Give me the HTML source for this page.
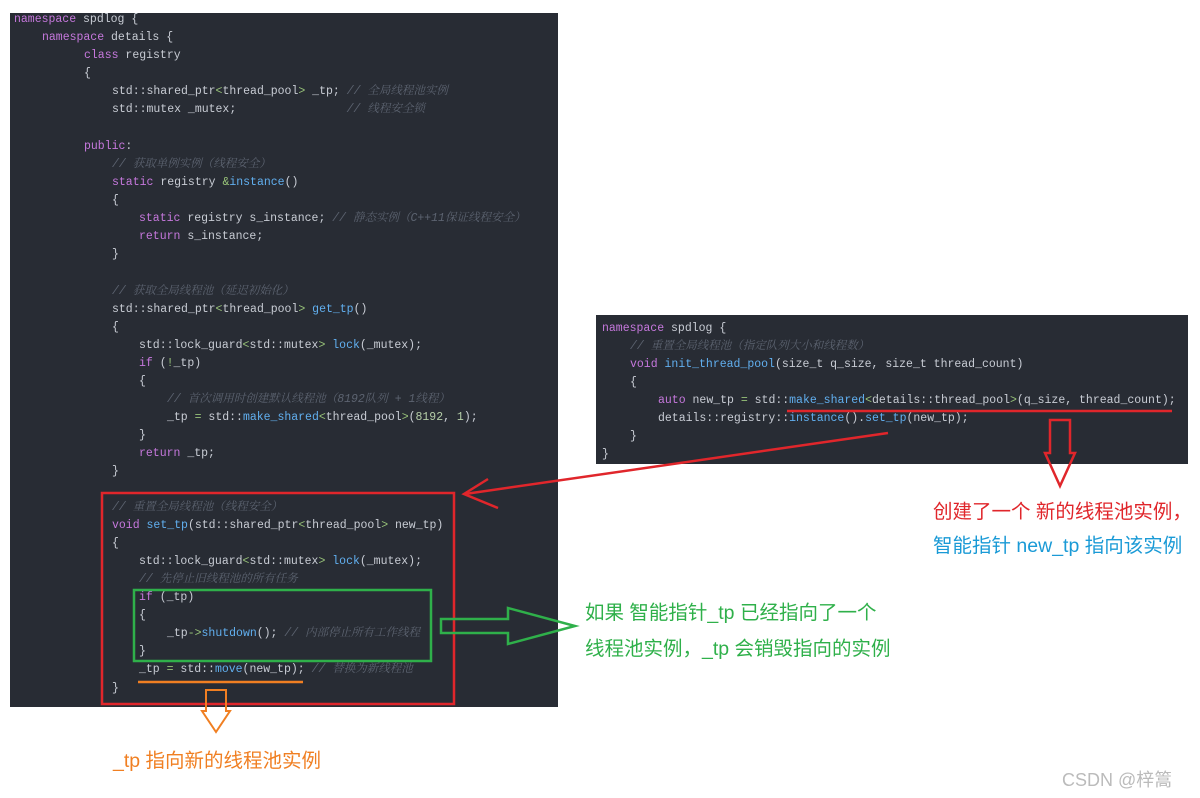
<!DOCTYPE html>
<html><head><meta charset="utf-8"><style>
body{margin:0;width:1200px;height:798px;background:#fff;position:relative;overflow:hidden;font-family:"Liberation Sans","Noto Sans CJK SC",sans-serif}
.panel{position:absolute;background:#282c34}
.l{position:absolute;white-space:pre;font-family:"Liberation Mono","Noto Sans CJK SC",monospace;font-size:11.5px;line-height:18px;color:#c8ccd4}
.k{color:#c678dd}.f{color:#61afef}.g{color:#98c379}.n{color:#b5cea8}
.c{color:#5c6370;font-style:italic;font-family:"Liberation Mono","Noto Serif CJK SC",monospace}
.t{position:absolute;white-space:nowrap;font-size:19.5px}
</style></head><body>
<div class="panel" style="left:10px;top:13px;width:548px;height:694px"></div>
<div class="panel" style="left:596px;top:315px;width:592px;height:149px"></div>

<div class="l" style="left:14px;top:11px"><span class="k">namespace</span> spdlog {</div>
<div class="l" style="left:42px;top:29px"><span class="k">namespace</span> details {</div>
<div class="l" style="left:84px;top:47px"><span class="k">class</span> registry</div>
<div class="l" style="left:84px;top:65px">{</div>
<div class="l" style="left:112px;top:83px">std::shared_ptr<span class="g">&lt;</span>thread_pool<span class="g">&gt;</span> _tp; <span class="c">// 全局线程池实例</span></div>
<div class="l" style="left:112px;top:101px">std::mutex _mutex;                <span class="c">// 线程安全锁</span></div>
<div class="l" style="left:84px;top:138px"><span class="k">public</span>:</div>
<div class="l" style="left:112px;top:156px"><span class="c">// 获取单例实例（线程安全）</span></div>
<div class="l" style="left:112px;top:174px"><span class="k">static</span> registry <span class="g">&amp;</span><span class="f">instance</span>()</div>
<div class="l" style="left:112px;top:192px">{</div>
<div class="l" style="left:139px;top:210px"><span class="k">static</span> registry s_instance; <span class="c">// 静态实例（C++11保证线程安全）</span></div>
<div class="l" style="left:139px;top:228px"><span class="k">return</span> s_instance;</div>
<div class="l" style="left:112px;top:246px">}</div>
<div class="l" style="left:112px;top:283px"><span class="c">// 获取全局线程池（延迟初始化）</span></div>
<div class="l" style="left:112px;top:301px">std::shared_ptr<span class="g">&lt;</span>thread_pool<span class="g">&gt;</span> <span class="f">get_tp</span>()</div>
<div class="l" style="left:112px;top:319px">{</div>
<div class="l" style="left:139px;top:337px">std::lock_guard<span class="g">&lt;</span>std::mutex<span class="g">&gt;</span> <span class="f">lock</span>(_mutex);</div>
<div class="l" style="left:139px;top:355px"><span class="k">if</span> (<span class="g">!</span>_tp)</div>
<div class="l" style="left:139px;top:373px">{</div>
<div class="l" style="left:167px;top:391px"><span class="c">// 首次调用时创建默认线程池（8192队列 + 1线程）</span></div>
<div class="l" style="left:167px;top:409px">_tp <span class="g">=</span> std::<span class="f">make_shared</span><span class="g">&lt;</span>thread_pool<span class="g">&gt;</span>(<span class="n">8192</span>, <span class="n">1</span>);</div>
<div class="l" style="left:139px;top:427px">}</div>
<div class="l" style="left:139px;top:445px"><span class="k">return</span> _tp;</div>
<div class="l" style="left:112px;top:463px">}</div>
<div class="l" style="left:112px;top:499px"><span class="c">// 重置全局线程池（线程安全）</span></div>
<div class="l" style="left:112px;top:517px"><span class="k">void</span> <span class="f">set_tp</span>(std::shared_ptr<span class="g">&lt;</span>thread_pool<span class="g">&gt;</span> new_tp)</div>
<div class="l" style="left:112px;top:535px">{</div>
<div class="l" style="left:139px;top:553px">std::lock_guard<span class="g">&lt;</span>std::mutex<span class="g">&gt;</span> <span class="f">lock</span>(_mutex);</div>
<div class="l" style="left:139px;top:571px"><span class="c">// 先停止旧线程池的所有任务</span></div>
<div class="l" style="left:139px;top:589px"><span class="k">if</span> (_tp)</div>
<div class="l" style="left:139px;top:607px">{</div>
<div class="l" style="left:167px;top:625px">_tp<span class="g">-&gt;</span><span class="f">shutdown</span>(); <span class="c">// 内部停止所有工作线程</span></div>
<div class="l" style="left:139px;top:643px">}</div>
<div class="l" style="left:139px;top:661px">_tp <span class="g">=</span> std::<span class="f">move</span>(new_tp); <span class="c">// 替换为新线程池</span></div>
<div class="l" style="left:112px;top:680px">}</div>

<div class="l" style="left:602px;top:320px"><span class="k">namespace</span> spdlog {</div>
<div class="l" style="left:630px;top:338px"><span class="c">// 重置全局线程池（指定队列大小和线程数）</span></div>
<div class="l" style="left:630px;top:356px"><span class="k">void</span> <span class="f">init_thread_pool</span>(size_t q_size, size_t thread_count)</div>
<div class="l" style="left:630px;top:374px">{</div>
<div class="l" style="left:658px;top:392px"><span class="k">auto</span> new_tp <span class="g">=</span> std::<span class="f">make_shared</span><span class="g">&lt;</span>details::thread_pool<span class="g">&gt;</span>(q_size, thread_count);</div>
<div class="l" style="left:658px;top:410px">details::registry::<span class="f">instance</span>().<span class="f">set_tp</span>(new_tp);</div>
<div class="l" style="left:630px;top:428px">}</div>
<div class="l" style="left:602px;top:446px">}</div>

<svg width="1200" height="798" style="position:absolute;left:0;top:0">
<rect x="102" y="493" width="352" height="211" fill="none" stroke="#e0262b" stroke-width="2.5"/>
<rect x="134" y="590" width="297" height="71" fill="none" stroke="#2fb04a" stroke-width="2.5"/>
<line x1="138" y1="682" x2="303" y2="682" stroke="#f07f22" stroke-width="2.5"/>
<polygon points="206,690 226,690 226,711 230,711 216,732 202,711 206,711" fill="none" stroke="#f07f22" stroke-width="2"/>
<polygon points="441,619 508,619 508,608 575,626 508,644 508,633 441,633" fill="none" stroke="#2fb04a" stroke-width="2.5"/>
<line x1="787" y1="411" x2="1172" y2="411" stroke="#e0262b" stroke-width="2.5"/>
<polygon points="1050,420 1070,420 1070,453 1075,453 1060,486 1045,453 1050,453" fill="none" stroke="#e0262b" stroke-width="2.5"/>
<line x1="888" y1="433" x2="465" y2="494" stroke="#e0262b" stroke-width="2.5"/>
<polyline points="488,479 464,494 498,508" fill="none" stroke="#e0262b" stroke-width="2.5"/>
</svg>

<div class="t" style="left:585px;top:596px;color:#2fb04a">如果 智能指针_tp 已经指向了一个</div>
<div class="t" style="left:585px;top:632px;color:#2fb04a">线程池实例，_tp 会销毁指向的实例</div>
<div class="t" style="left:933px;top:495px;color:#e0262b">创建了一个 新的线程池实例，</div>
<div class="t" style="left:933px;top:529px;color:#1a9ad6">智能指针 new_tp 指向该实例</div>
<div class="t" style="left:113px;top:744px;color:#f07f22">_tp 指向新的线程池实例</div>
<div class="t" style="left:1062px;top:766px;color:#bbb;font-size:18px">CSDN @梓篙</div>
</body></html>
